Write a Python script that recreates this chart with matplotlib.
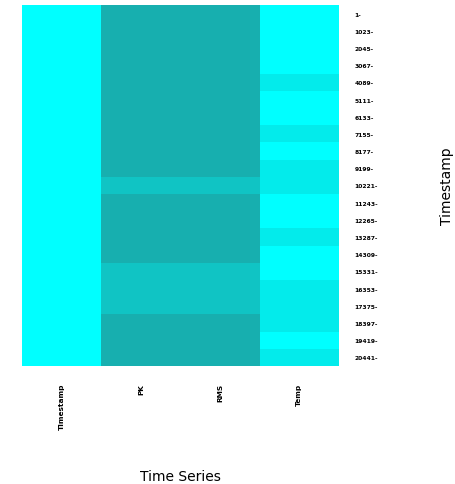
import numpy as np
import matplotlib.pyplot as plt
from matplotlib.colors import ListedColormap

# column names and row labels (timestamps, every 1022 samples)
columns = ['Timestamp', 'PK', 'RMS', 'Temp']
row_labels = [str(1 + 1022 * i) for i in range(21)]

# binned level per row: 0 = lowest (cyan) ... 3 = highest (teal)
timestamp_level = [0] * 21
pk_level = [3, 3, 3, 3, 3, 3, 3, 3, 3, 3, 2, 3, 3, 3, 3, 2, 2, 2, 3, 3, 3]
rms_level = [3, 3, 3, 3, 3, 3, 3, 3, 3, 3, 2, 3, 3, 3, 3, 2, 2, 2, 3, 3, 3]
temp_level = [0, 0, 0, 0, 1, 0, 0, 1, 0, 1, 1, 0, 0, 1, 0, 0, 1, 1, 1, 0, 1]

level_colors = ['#00ffff', '#03ebeb', '#10c4c4', '#17afaf']

grid = np.array([timestamp_level, pk_level, rms_level, temp_level]).T

W, H = 456, 485
fig = plt.figure(figsize=(W / 100, H / 100), dpi=100)
ax = fig.add_axes([22 / W, 1 - 367 / H, (339 - 22) / W, (367 - 6) / H])

cmap = ListedColormap(level_colors)
ax.imshow(grid, cmap=cmap, vmin=-0.5, vmax=3.5, aspect='auto',
          interpolation='nearest')

ax.set_xticks(range(len(columns)))
ax.set_xticklabels(columns, rotation=90, fontsize=5.3, fontweight='bold',
                   va='top')
ax.set_yticks(range(len(row_labels)))
ax.set_yticklabels([lab + '-' for lab in row_labels], fontsize=4.3,
                   fontweight='bold')
ax.yaxis.tick_right()
ax.tick_params(axis='x', length=0, pad=12)
ax.tick_params(axis='y', length=0, pad=11)
for s in ax.spines.values():
    s.set_visible(False)

fig.text(180 / W, 1 - 477 / H, 'Time Series', fontsize=10,
         ha='center', va='center')
fig.text(447 / W, 1 - 186 / H, 'Timestamp', fontsize=10, rotation=90,
         ha='center', va='center')

fig.savefig('out.png', dpi=100)
